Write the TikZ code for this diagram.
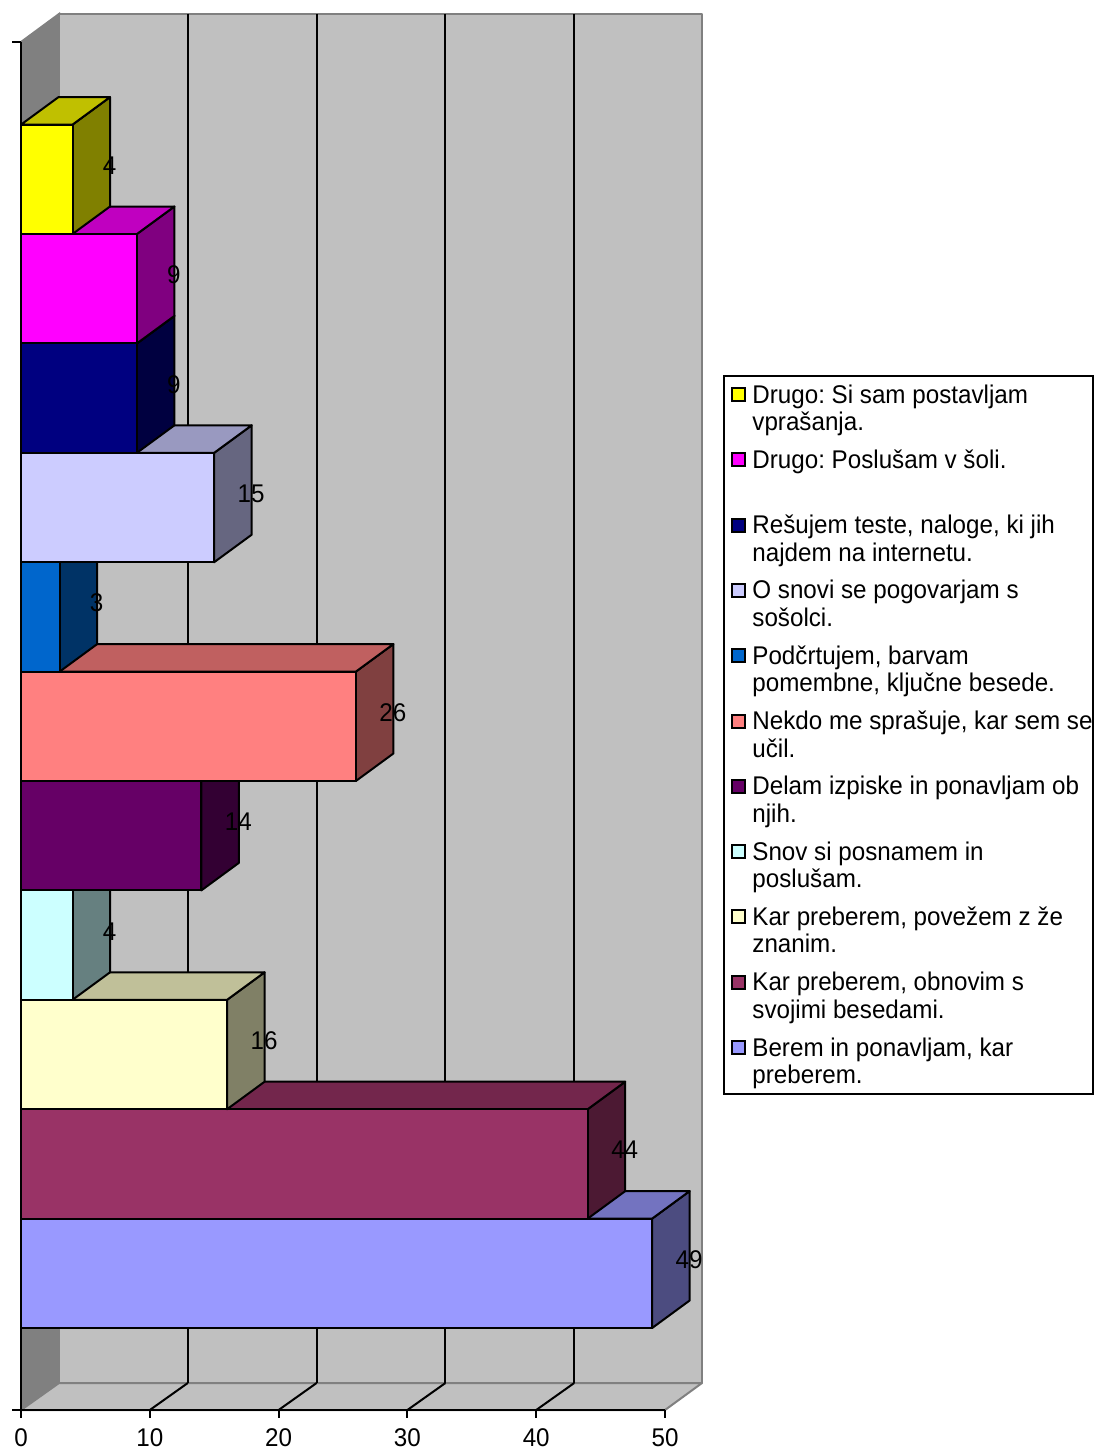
\documentclass[tikz,border=0pt]{standalone}
\usepackage{fontspec}
\setmainfont{Liberation Sans}[FakeStretch=0.945]
\frenchspacing
\definecolor{wallside}{HTML}{808080}
\definecolor{wallback}{HTML}{C0C0C0}
\definecolor{walledge}{HTML}{808080}
\tikzset{
  wall/.style={fill=wallback, draw=walledge, line width=1pt, line join=round},
  grid/.style={draw=black, line width=1pt},
  axisline/.style={draw=black, line width=1pt},
  face/.style={draw=black, line width=1pt, line join=round},
  lbl/.style={font=\fontsize{12.8pt}{15pt}\selectfont, inner sep=0pt, anchor=base},
  legtext/.style={font=\fontsize{12.8pt}{15pt}\selectfont, inner sep=0pt, anchor=base west},
  legmark/.style={draw=black, line width=1pt, minimum size=6.5pt, inner sep=0pt},
}
\begin{document}
\begin{tikzpicture}[x=0.5pt,y=-0.5pt]
\useasboundingbox (0,0) rectangle (1094,1450);
% walls
\fill[wallside, draw=walledge, line width=1pt] (21,42) -- (59,14) -- (59,1383) -- (21,1410) -- cycle;
\draw[wall] (59,14) rectangle (702,1383);
\draw[wall] (21,1410) -- (665,1410) -- (702,1383) -- (59,1383) -- cycle;
\foreach \k in {1,...,4} {
  \draw[grid] ({59+128.8*\k},14) -- ({59+128.8*\k},1383);
  \draw[grid] ({21+128.8*\k},1410) -- ({59+128.8*\k},1383);
}
% bars (bottom to top)
\begin{scope}
\clip (20,0) rectangle (1094,1450);
\foreach \v/\fc/\tc/\sc [count=\k from 0] in {
  49/9999FF/7373C0/4C4C80,
  44/993366/73264C/4C1933,
  16/FFFFCC/C0C099/808066,
  4/CCFFFF/99C0C0/668080,
  14/660066/4C004C/330033,
  26/FF8080/C06060/804040,
  3/0066CC/004C99/003366,
  15/CCCCFF/9999C0/666680,
  9/000080/000060/000040,
  9/FF00FF/C000C0/800080,
  4/FFFF00/C0C000/808000} {
  \definecolor{cf}{HTML}{\fc}
  \definecolor{ct}{HTML}{\tc}
  \definecolor{cs}{HTML}{\sc}
  \pgfmathsetmacro\xr{21+12.88*\v}
  \pgfmathsetmacro\yb{1328-109.4*\k}
  \pgfmathsetmacro\yt{\yb-109.4}
  \draw[face, fill=cs] (\xr,\yb) -- ({\xr+37.5},{\yb-27.5}) -- ({\xr+37.5},{\yt-27.5}) -- (\xr,\yt) -- cycle;
  \draw[face, fill=ct] (21,\yt) -- (\xr,\yt) -- ({\xr+37.5},{\yt-27.5}) -- (58.5,{\yt-27.5}) -- cycle;
  \draw[face, fill=cf] (21,\yt) rectangle (\xr,\yb);
}
\end{scope}
% axes
\draw[axisline] (21,42) -- (21,1410);
\draw[axisline] (12,42) -- (21,42);
\draw[axisline] (12,1410) -- (665,1410);
\foreach \k in {0,...,5} {
  \draw[axisline] ({21+128.8*\k},1410) -- ({21+128.8*\k},1418);
}
\foreach \t [count=\k from 0] in {0,10,20,30,40,50} {
  \node[lbl] (tick\k) at ({21+128.8*\k},1446) {\t};
}
% value labels
\foreach \v [count=\k from 0] in {49,44,16,4,14,26,3,15,9,9,4} {
  \pgfmathsetmacro\xr{21+12.88*\v}
  \pgfmathsetmacro\yc{1328-109.4*\k-54.7}
  \node[lbl] (val\k) at ({\xr+37},{\yc-5}) {\v};
}
% legend
\node[draw=black, line width=1pt, minimum width=184.5pt, minimum height=359pt, inner sep=0pt, anchor=north west] (legend) at (723,375) {};
\foreach \c/\a/\b [count=\i from 0] in {
  FFFF00/{Drugo: Si sam postavljam}/{vprašanja.},
  FF00FF/{Drugo: Poslušam v šoli.}/{},
  000080/{Rešujem teste, naloge, ki jih}/{najdem na internetu.},
  CCCCFF/{O snovi se pogovarjam s}/{sošolci.},
  0066CC/{Podčrtujem, barvam}/{pomembne, ključne besede.},
  FF8080/{Nekdo me sprašuje, kar sem se}/{učil.},
  660066/{Delam izpiske in ponavljam ob}/{njih.},
  CCFFFF/{Snov si posnamem in}/{poslušam.},
  FFFFCC/{Kar preberem, povežem z že}/{znanim.},
  993366/{Kar preberem, obnovim s}/{svojimi besedami.},
  9999FF/{Berem in ponavljam, kar}/{preberem.}} {
  \definecolor{cm}{HTML}{\c}
  \node[legmark, fill=cm] (mark\i) at (738,{394.5+65.3*\i}) {};
  \node[legtext] (lega\i) at (752,{403+65.3*\i}) {\a};
  \node[legtext] (legb\i) at (752,{430.5+65.3*\i}) {\b};
}
\end{tikzpicture}
\end{document}
